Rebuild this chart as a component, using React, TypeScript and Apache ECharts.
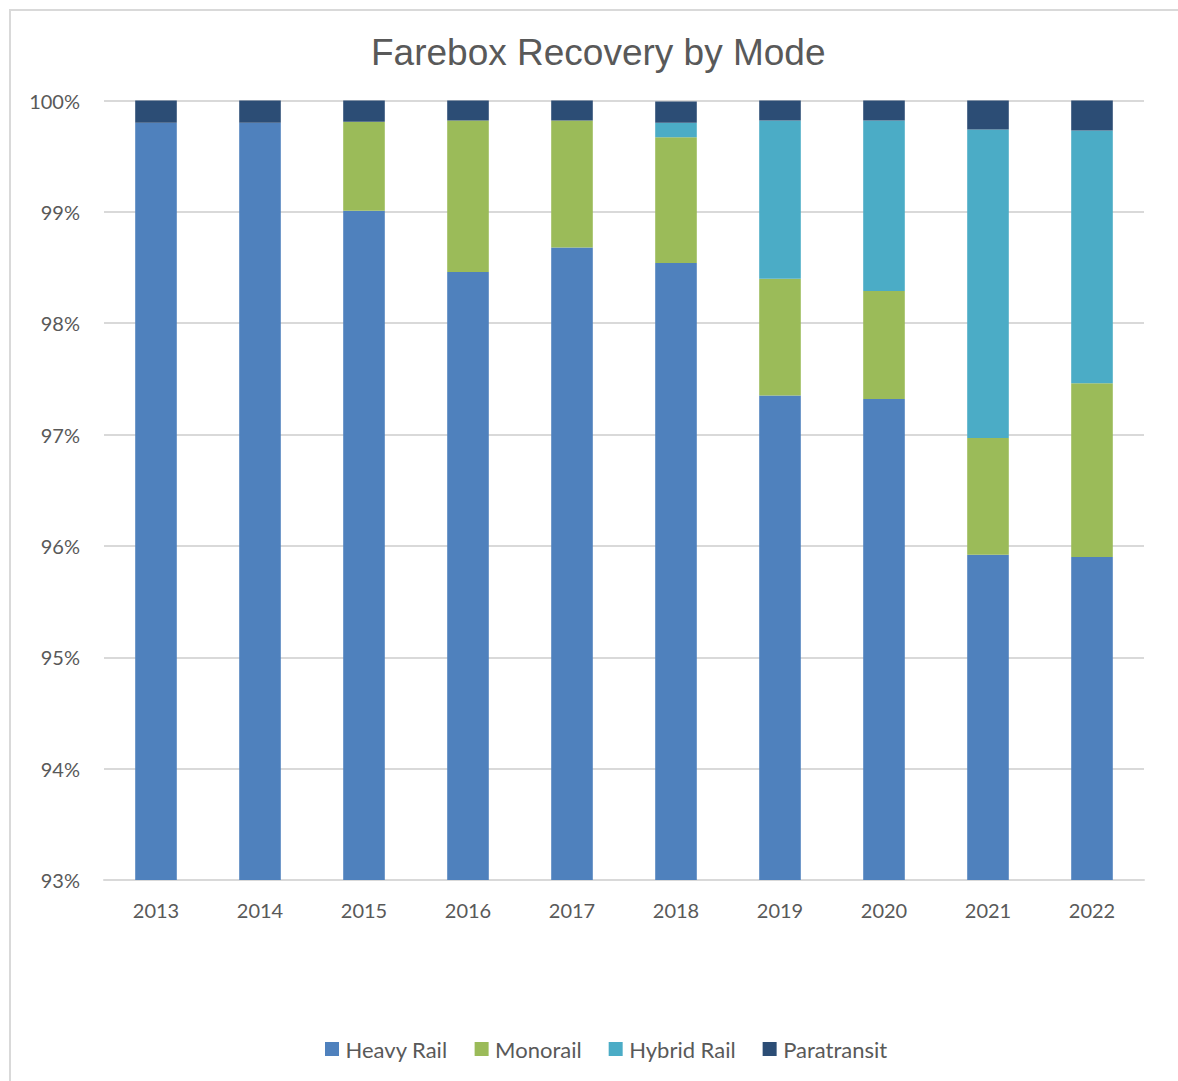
import React, { useEffect, useRef } from "react";
import * as echarts from "echarts";

const years = ["2013", "2014", "2015", "2016", "2017", "2018", "2019", "2020", "2021", "2022"];
const heavyRail = [99.80, 99.80, 99.01, 98.46, 98.68, 98.54, 97.35, 97.32, 95.92, 95.90];
const monorail = [0, 0, 0.80, 1.36, 1.14, 1.13, 1.05, 0.97, 1.05, 1.56];
const hybridRail = [0, 0, 0, 0, 0, 0.13, 1.42, 1.53, 2.77, 2.27];
const paratransit = [0.20, 0.20, 0.19, 0.18, 0.18, 0.19, 0.18, 0.18, 0.26, 0.27];

const seriesNames = ["Heavy Rail", "Monorail", "Hybrid Rail", "Paratransit"];
const seriesColors = ["#4F81BD", "#9BBB59", "#4BACC6", "#2C4D75"];

export default function App() {
  const ref = useRef<HTMLDivElement>(null);
  useEffect(() => {
    if (!ref.current) return;
    const chart = echarts.init(ref.current, null, { renderer: "svg" });
    const dataSets = [heavyRail, monorail, hybridRail, paratransit];
    const textFont = "Lato, 'Open Sans', sans-serif";
    chart.setOption({
      animation: false,
      backgroundColor: "#ffffff",
      title: {
        text: "Farebox Recovery by Mode",
        left: 366,
        top: 29,
        textStyle: {
          fontFamily: "'Liberation Sans', Arial, sans-serif",
          fontSize: 37,
          fontWeight: "normal",
          color: "#595959",
        },
      },
      graphic: [
        {
          type: "polyline",
          shape: { points: [[10, 1081], [10, 10], [1178, 10]] },
          style: { stroke: "#d9d9d9", lineWidth: 2, fill: "none" },
          silent: true,
        },
      ],
      legend: {
        bottom: 16,
        left: 320,
        icon: "rect",
        itemWidth: 14,
        itemHeight: 14,
        itemGap: 27,
        textStyle: { fontFamily: textFont, fontSize: 22, color: "#595959", padding: [0, 0, 0, 1.5] },
        data: seriesNames,
      },
      grid: { left: 104, right: 34, top: 100.5, bottom: 201, containLabel: false },
      xAxis: {
        type: "category",
        data: years,
        axisLine: { show: true, lineStyle: { color: "#d9d9d9", width: 2 } },
        axisTick: { show: false },
        axisLabel: { fontFamily: textFont, fontSize: 20, color: "#595959", margin: 20 },
      },
      yAxis: {
        type: "value",
        min: 93,
        max: 100,
        interval: 1,
        axisLine: { show: false },
        axisTick: { show: false },
        splitLine: { lineStyle: { color: "#d9d9d9", width: 2 } },
        axisLabel: {
          fontFamily: textFont,
          fontSize: 20,
          color: "#595959",
          margin: 24,
          formatter: (v: number) => `${v}%`,
        },
      },
      series: seriesNames.map((name, i) => ({
        name,
        type: "bar",
        stack: "total",
        barWidth: "40%",
        data: dataSets[i],
        itemStyle: { color: seriesColors[i] },
      })),
    });
    return () => chart.dispose();
  }, []);
  return (
    <div
      ref={ref}
      style={{ position: "absolute", left: 0, top: 0, width: 1178, height: 1081 }}
    />
  );
}
